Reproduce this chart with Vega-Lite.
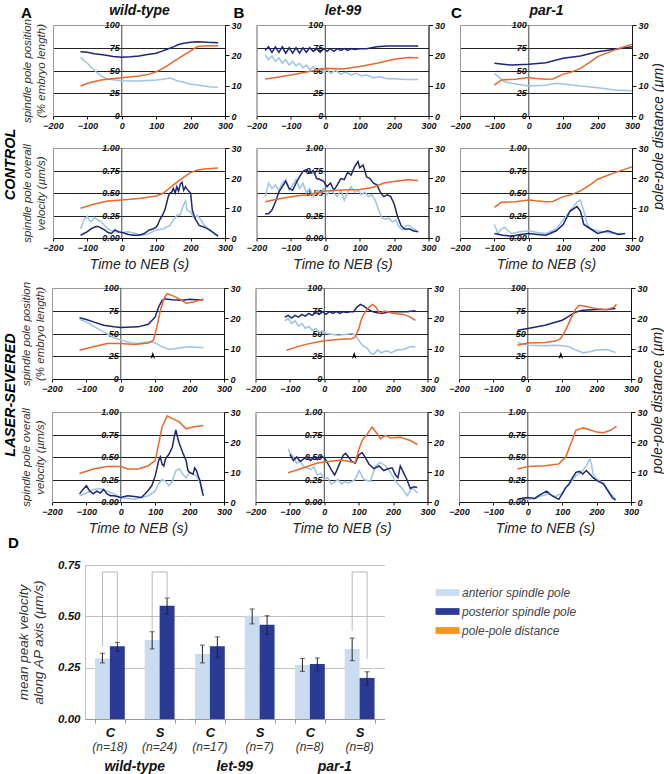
{
"$schema":"https://vega.github.io/schema/vega-lite/v6.json",
"padding":{"left":2,"top":2,"right":2,"bottom":2},
"config":{"font":"Liberation Sans","view":{"stroke":"#9a9a9a"},"mark":{"invalid":"filter"},
"axis":{"labelFont":"Liberation Sans","labelFontSize":9,"labelFontStyle":"italic","labelFontWeight":"bold","labelColor":"#111","domainColor":"#111","tickColor":"#111","titleFont":"Liberation Sans","titleFontStyle":"italic","titleFontWeight":"normal","titleColor":"#333","grid":false},
"title":{"font":"Liberation Sans","color":"#000"},
"header":{"labelFont":"Liberation Sans","labelFontSize":14,"labelFontWeight":"bold","labelFontStyle":"italic","labelColor":"#111"}},
"resolve":{"scale":{"color":"independent"},"legend":{"color":"independent"}},
"datasets":{
"tP":[{"v":0,"l":"0"},{"v":25,"l":"25"},{"v":50,"l":"50"},{"v":75,"l":"75"},{"v":100,"l":"100"}],
"tV":[{"v":0,"l":"0.00"},{"v":0.25,"l":"0.25"},{"v":0.5,"l":"0.50"},{"v":0.75,"l":"0.75"},{"v":1,"l":"1.00"}],
"A1":[{"t":-120,"a":64.5,"p":70.7,"d":9.9},{"t":-110,"a":61},{"t":-100,"a":58,"p":70,"d":10.8},{"t":-90,"a":54},{"t":-80,"a":50.5,"p":68.5},{"t":-70,"a":47},{"t":-60,"a":44,"d":11.9},{"t":-50,"a":42,"p":67},{"t":-40,"a":40.7},{"t":-30,"d":12.3},{"t":-25,"p":65.5},{"t":-20,"a":39.5},{"t":0,"a":38.8,"p":64.5,"d":12.6},{"t":25,"a":38.5,"p":65},{"t":50,"a":38.5,"p":66,"d":13.2},{"t":75,"a":39,"p":67.5},{"t":80,"d":13.8},{"t":100,"a":39.6,"p":69,"d":14.6},{"t":115,"p":71},{"t":120,"a":40.5,"d":15.7},{"t":130,"p":73},{"t":135,"d":16.8},{"t":140,"a":41.8},{"t":150,"a":40.5,"p":76,"d":17.9},{"t":160,"a":38.8},{"t":165,"p":78.5,"d":19},{"t":180,"a":37,"p":80,"d":20.1},{"t":200,"a":35,"p":81,"d":21.5},{"t":220,"a":34,"p":81.7,"d":22.9},{"t":240,"a":33,"d":23.1},{"t":250,"p":81},{"t":260,"a":32},{"t":280,"a":31.5,"p":80.6,"d":23.2}],
"A2":[{"t":-120,"p":0.03,"a":0.1,"d":9.9},{"t":-115,"a":0.15},{"t":-110,"p":0.05,"a":0.2},{"t":-100,"p":0.07,"a":0.24},{"t":-95,"a":0.2},{"t":-90,"p":0.1,"a":0.18},{"t":-85,"a":0.2},{"t":-80,"p":0.12,"a":0.23,"d":11.3},{"t":-70,"p":0.13,"a":0.2},{"t":-60,"p":0.11,"a":0.18},{"t":-50,"p":0.09,"a":0.14},{"t":-40,"p":0.06,"a":0.1,"d":12.3},{"t":-30,"p":0.05,"a":0.08},{"t":-20,"p":0.09,"a":0.07},{"t":-10,"p":0.07},{"t":0,"p":0.06,"a":0.06,"d":12.7},{"t":10,"p":0.05},{"t":20,"p":0.04,"a":0.07},{"t":35,"p":0.03},{"t":40,"a":0.05},{"t":50,"p":0.03,"d":13.2},{"t":60,"a":0.03},{"t":65,"p":0.05},{"t":80,"p":0.09,"a":0.05},{"t":90,"p":0.1},{"t":100,"p":0.12,"a":0.09,"d":14},{"t":105,"p":0.15},{"t":110,"p":0.2},{"t":118,"p":0.25},{"t":120,"a":0.1,"d":14.9},{"t":125,"p":0.31},{"t":130,"p":0.38},{"t":135,"p":0.46},{"t":140,"p":0.5,"a":0.14},{"t":145,"p":0.51},{"t":150,"p":0.55,"a":0.2,"d":17.7},{"t":155,"p":0.5},{"t":160,"p":0.57,"a":0.25},{"t":165,"p":0.52},{"t":170,"p":0.6,"a":0.26},{"t":175,"p":0.62,"a":0.32},{"t":180,"p":0.53,"a":0.37,"d":20.3},{"t":185,"p":0.57,"a":0.41},{"t":190,"p":0.54,"a":0.31},{"t":195,"p":0.52},{"t":200,"p":0.5,"a":0.29,"d":21.8},{"t":205,"p":0.31},{"t":210,"p":0.25,"a":0.22},{"t":215,"p":0.2},{"t":220,"a":0.25,"d":22.7},{"t":225,"p":0.14},{"t":230,"a":0.2},{"t":240,"p":0.12,"a":0.14,"d":23},{"t":255,"p":0.09,"a":0.09},{"t":270,"p":0.05,"a":0.04},{"t":280,"p":0.02,"a":0.02,"d":23.3}],
"B1":[{"t":-175,"p":72,"a":67,"d":12.2},{"t":-165,"p":76,"a":62},{"t":-155,"p":70,"a":66},{"t":-145,"p":76,"a":60},{"t":-140,"d":12.8},{"t":-135,"p":70,"a":64},{"t":-125,"p":76,"a":58},{"t":-115,"p":69,"a":62},{"t":-105,"p":75,"a":56},{"t":-100,"d":13.5},{"t":-95,"p":69,"a":60},{"t":-85,"p":75,"a":55},{"t":-75,"p":69,"a":58},{"t":-65,"p":75,"a":53},{"t":-55,"p":70,"a":56},{"t":-50,"d":14.6},{"t":-45,"p":75,"a":51},{"t":-35,"p":71,"a":54},{"t":-25,"p":74,"a":50},{"t":-15,"p":70,"a":52},{"t":-5,"p":74,"a":48},{"t":0,"d":15.7},{"t":5,"p":71,"a":51},{"t":15,"p":74,"a":47},{"t":25,"p":71},{"t":30,"a":50},{"t":35,"p":74},{"t":45,"p":72,"a":46},{"t":50,"d":15.5},{"t":55,"p":74},{"t":60,"a":48},{"t":65,"p":72},{"t":75,"p":74,"a":45},{"t":85,"p":73},{"t":90,"a":47},{"t":100,"p":74,"d":16.3},{"t":105,"a":44},{"t":120,"p":74,"a":45},{"t":140,"a":42},{"t":150,"p":76,"d":17.4},{"t":160,"a":43},{"t":180,"p":77,"a":41},{"t":200,"a":41,"d":18.7},{"t":210,"p":77},{"t":230,"a":40},{"t":240,"p":77,"d":19.3},{"t":270,"p":77,"a":40,"d":19.2}],
"B2":[{"t":-175,"p":0.27,"a":0.46,"d":12.1},{"t":-165,"p":0.27,"a":0.61},{"t":-155,"p":0.31,"a":0.55},{"t":-145,"p":0.4,"a":0.59},{"t":-135,"p":0.51,"a":0.53},{"t":-130,"d":13.2},{"t":-125,"p":0.57,"a":0.61},{"t":-115,"p":0.63,"a":0.65},{"t":-105,"p":0.55,"a":0.53},{"t":-95,"p":0.53,"a":0.59},{"t":-85,"p":0.61,"a":0.65},{"t":-80,"d":14.1},{"t":-75,"p":0.68,"a":0.55},{"t":-65,"p":0.74,"a":0.61},{"t":-55,"p":0.76,"a":0.5},{"t":-45,"p":0.72,"a":0.55},{"t":-40,"d":14.6},{"t":-35,"p":0.75,"a":0.46},{"t":-25,"p":0.66,"a":0.53},{"t":-15,"p":0.65,"a":0.48},{"t":-5,"p":0.63,"a":0.55},{"t":0,"d":15.7},{"t":5,"p":0.57,"a":0.48},{"t":15,"p":0.61,"a":0.53},{"t":25,"p":0.53,"a":0.5},{"t":35,"p":0.59,"a":0.46},{"t":45,"p":0.66,"a":0.53},{"t":50,"d":16},{"t":55,"p":0.65,"a":0.42},{"t":65,"p":0.73,"a":0.51},{"t":75,"p":0.7,"a":0.57},{"t":85,"p":0.79,"a":0.51},{"t":95,"p":0.85,"a":0.53},{"t":100,"p":0.78,"d":16.2},{"t":105,"a":0.48},{"t":110,"p":0.81},{"t":115,"a":0.51},{"t":120,"p":0.68},{"t":125,"a":0.46},{"t":130,"p":0.66},{"t":135,"a":0.48},{"t":140,"p":0.61,"d":16.9},{"t":145,"a":0.42},{"t":150,"p":0.59},{"t":155,"a":0.31},{"t":160,"p":0.51},{"t":165,"a":0.22},{"t":170,"p":0.46,"d":18.3},{"t":175,"a":0.21},{"t":180,"p":0.48},{"t":185,"a":0.22},{"t":190,"p":0.46},{"t":195,"a":0.18},{"t":200,"p":0.38,"d":18.8},{"t":205,"a":0.2},{"t":210,"p":0.24},{"t":215,"a":0.12},{"t":220,"p":0.14},{"t":225,"a":0.09},{"t":230,"p":0.1},{"t":235,"a":0.14},{"t":240,"d":19.4},{"t":245,"p":0.1,"a":0.14},{"t":255,"p":0.08,"a":0.1},{"t":265,"a":0.09},{"t":270,"p":0.07,"d":19.2}],
"C1":[{"t":-100,"p":57.9,"a":46.9,"d":10.2},{"t":-80,"a":40.3,"d":11.9},{"t":-70,"a":37.7},{"t":-50,"p":56,"a":35.9},{"t":-40,"d":12.1},{"t":0,"p":57,"a":33,"d":12.7},{"t":20,"d":12.4},{"t":50,"p":58.6,"a":33.7,"d":12.1},{"t":70,"d":12.2},{"t":80,"p":61.5,"a":35.9},{"t":100,"p":63.4,"d":13.8},{"t":120,"d":14.3},{"t":150,"p":66,"a":33,"d":15.7},{"t":180,"d":17.9},{"t":200,"p":70.7,"a":31,"d":19.6},{"t":250,"p":73.3,"a":28.6,"d":21.8},{"t":300,"p":76.2,"a":27.8,"d":23.7}],
"C2":[{"t":-100,"a":0.15,"p":0.05,"d":10.2},{"t":-90,"a":0.05},{"t":-80,"a":0.1,"d":11.9},{"t":-75,"p":0.03},{"t":-70,"a":0.12},{"t":-60,"a":0.08},{"t":-50,"a":0.05,"p":0.02},{"t":-40,"d":12.1},{"t":-25,"a":0.07,"p":0.04},{"t":0,"a":0.08,"p":0.05,"d":12.7},{"t":20,"d":12.4},{"t":25,"a":0.06,"p":0.04},{"t":50,"a":0.05,"p":0.03,"d":12.1},{"t":70,"d":12.2},{"t":80,"a":0.1,"p":0.08},{"t":100,"a":0.2,"p":0.15,"d":13.8},{"t":120,"a":0.3,"p":0.3,"d":14.3},{"t":140,"a":0.4,"p":0.35},{"t":150,"a":0.42,"p":0.3,"d":15.7},{"t":160,"a":0.3,"p":0.15},{"t":170,"a":0.15},{"t":180,"a":0.1,"p":0.1,"d":17.9},{"t":200,"a":0.08,"p":0.05,"d":19.6},{"t":225,"a":0.06},{"t":230,"p":0.08},{"t":250,"a":0.05,"d":21.8},{"t":260,"p":0.04},{"t":270,"a":0.05},{"t":280,"p":0.05},{"t":300,"d":23.7}],
"A3":[{"t":-120,"p":67.2,"a":65.3,"d":9.5},{"t":-100,"p":65.3,"a":62.8},{"t":-80,"p":62.8,"a":58,"d":10.6},{"t":-50,"p":59.1,"a":51.8},{"t":-40,"d":11.7},{"t":-20,"p":57.3,"a":45.6},{"t":0,"p":56.6,"a":42.7,"d":11.7},{"t":30,"a":39.8},{"t":40,"d":11.4},{"t":50,"p":57.3,"a":39},{"t":80,"p":60.2,"a":40.9,"d":11.9},{"t":95,"d":12.8},{"t":100,"p":68.2,"a":39.8},{"t":105,"d":17.2},{"t":110,"p":79.2},{"t":115,"d":22.6},{"t":120,"p":86.5,"a":35.4},{"t":125,"d":26.4},{"t":130,"p":88},{"t":135,"d":28.1},{"t":140,"a":32.5},{"t":150,"p":87,"d":27.5},{"t":160,"a":33.6},{"t":170,"d":26.4},{"t":180,"p":86.5,"a":34.7},{"t":190,"d":25},{"t":200,"p":87.5,"a":35.4},{"t":210,"d":25.4},{"t":220,"p":87},{"t":240,"p":87,"a":34.3,"d":26.4}],
"A4":[{"t":-120,"p":0.09,"a":0.07,"d":9.5},{"t":-110,"p":0.14},{"t":-100,"p":0.18,"a":0.1},{"t":-90,"p":0.12},{"t":-80,"p":0.09,"a":0.14,"d":11},{"t":-70,"p":0.12},{"t":-60,"p":0.1,"a":0.15},{"t":-50,"p":0.14},{"t":-40,"p":0.09,"a":0.12,"d":11.8},{"t":-30,"p":0.07},{"t":-20,"p":0.07,"a":0.09},{"t":0,"p":0.05,"a":0.05,"d":11.8},{"t":20,"p":0.07,"a":0.04,"d":11},{"t":40,"p":0.06,"a":0.03},{"t":50,"d":11},{"t":60,"p":0.05,"a":0.05},{"t":70,"p":0.09},{"t":80,"p":0.13,"a":0.07,"d":12.1},{"t":90,"p":0.18},{"t":100,"p":0.29,"a":0.12,"d":13.8},{"t":105,"p":0.37},{"t":110,"p":0.46,"a":0.2,"d":19.4},{"t":115,"p":0.5},{"t":120,"p":0.42,"a":0.25,"d":25},{"t":125,"p":0.4},{"t":130,"p":0.48,"a":0.23},{"t":135,"d":28.7},{"t":140,"p":0.53,"a":0.18},{"t":150,"p":0.61,"a":0.23,"d":27.8},{"t":155,"p":0.72},{"t":160,"p":0.8,"a":0.35},{"t":165,"p":0.72},{"t":170,"p":0.65,"a":0.37,"d":26.7},{"t":180,"p":0.55,"a":0.31},{"t":190,"p":0.46,"a":0.27,"d":24.4},{"t":195,"p":0.35},{"t":200,"p":0.33,"a":0.33},{"t":210,"p":0.31,"a":0.31,"d":25},{"t":215,"p":0.38},{"t":220,"p":0.35,"a":0.29},{"t":225,"p":0.29},{"t":230,"p":0.24,"a":0.22},{"t":235,"p":0.14},{"t":240,"p":0.07,"a":0.12,"d":25.5}],
"B3":[{"t":-115,"p":68,"a":63.9},{"t":-110,"d":9.5},{"t":-105,"p":70,"a":66.4},{"t":-95,"p":67,"a":61},{"t":-85,"p":70,"a":63.9},{"t":-80,"d":10.6},{"t":-75,"p":68,"a":58},{"t":-65,"p":71,"a":61},{"t":-55,"p":69,"a":55.5},{"t":-50,"d":11.5},{"t":-45,"p":72,"a":58},{"t":-35,"p":70,"a":53.6},{"t":-25,"p":73,"a":55.5},{"t":-20,"d":12.2},{"t":-15,"p":71,"a":51.8},{"t":-5,"p":74,"a":52.9},{"t":0,"d":12.6},{"t":5,"p":71,"a":50},{"t":15,"p":74},{"t":20,"a":49.3},{"t":25,"p":72},{"t":35,"p":74},{"t":40,"a":48.2,"d":13},{"t":45,"p":72},{"t":55,"p":74},{"t":60,"a":48.9},{"t":65,"p":73},{"t":75,"p":74},{"t":80,"a":50,"d":13.3},{"t":85,"p":74},{"t":90,"a":48.2,"d":13.9},{"t":95,"p":79},{"t":100,"a":42.7,"d":16.6},{"t":105,"p":82},{"t":110,"a":37.2,"d":20.4},{"t":115,"p":80},{"t":125,"p":77,"a":33.6,"d":23.2},{"t":135,"a":28.1},{"t":140,"p":74,"d":24.6},{"t":145,"a":27.4},{"t":150,"p":73,"d":23.7},{"t":155,"a":32},{"t":160,"d":21.7},{"t":165,"p":72,"a":28.8},{"t":175,"d":22.4},{"t":180,"p":73,"a":31},{"t":195,"a":28.8},{"t":200,"p":74,"d":21.7},{"t":210,"a":31.8},{"t":220,"p":74},{"t":230,"a":32.5,"d":21.3},{"t":240,"p":74},{"t":250,"a":35.4,"d":20.4},{"t":265,"p":75,"a":35.4,"d":19.3}],
"B4":[{"t":-105,"a":0.59,"d":9.75},{"t":-100,"p":0.53,"a":0.55},{"t":-90,"p":0.46,"a":0.5},{"t":-80,"p":0.5,"a":0.43},{"t":-70,"p":0.45,"a":0.46},{"t":-60,"p":0.48,"a":0.39,"d":11.4},{"t":-50,"p":0.5,"a":0.38},{"t":-40,"p":0.46,"a":0.36},{"t":-30,"p":0.5,"a":0.39},{"t":-20,"p":0.47,"a":0.3,"d":13},{"t":-10,"p":0.51,"a":0.32},{"t":0,"p":0.49,"a":0.25,"d":13.3},{"t":10,"p":0.43,"a":0.27},{"t":20,"p":0.36,"a":0.2},{"t":30,"p":0.3,"a":0.22},{"t":35,"p":0.34},{"t":40,"a":0.25},{"t":45,"p":0.43},{"t":50,"a":0.2,"d":14},{"t":55,"p":0.52},{"t":60,"a":0.23},{"t":62,"p":0.54},{"t":70,"p":0.5,"a":0.21},{"t":80,"p":0.45,"a":0.23,"d":13.3},{"t":90,"p":0.43,"a":0.25,"d":13.2},{"t":100,"p":0.52,"d":17.3},{"t":101,"a":0.35},{"t":110,"p":0.55,"d":20.5},{"t":115,"a":0.25},{"t":120,"p":0.49},{"t":125,"d":22.7},{"t":130,"p":0.42},{"t":134,"a":0.23},{"t":139,"d":25},{"t":144,"p":0.37},{"t":149,"a":0.4},{"t":154,"d":22.7},{"t":159,"p":0.4},{"t":163,"a":0.44,"d":21.1},{"t":173,"p":0.35},{"t":178,"a":0.4,"d":22.2},{"t":185,"p":0.37},{"t":192,"a":0.33,"d":21.4},{"t":197,"p":0.38},{"t":207,"p":0.3,"a":0.23},{"t":214,"p":0.27},{"t":221,"p":0.4,"d":21.6},{"t":226,"a":0.15},{"t":230,"p":0.33},{"t":240,"p":0.25},{"t":241,"a":0.07},{"t":250,"p":0.15,"d":20.5},{"t":255,"a":0.16},{"t":260,"p":0.17},{"t":270,"p":0.16},{"t":271,"a":0.1,"d":19.1}],
"C3":[{"t":-30,"p":53.6,"a":40.1,"d":11.1},{"t":0,"p":55.5,"a":37.2,"d":11.9},{"t":50,"p":59,"a":36.5,"d":12},{"t":80,"a":37.2,"d":12.5},{"t":95,"d":13.3},{"t":100,"p":64.6,"a":36.5},{"t":110,"d":16.1},{"t":120,"p":69,"a":35.4},{"t":125,"d":19.9},{"t":140,"p":73.7,"a":31.8,"d":23.2},{"t":150,"d":24.3},{"t":160,"p":75.5,"a":28.8},{"t":170,"d":23.9},{"t":180,"a":29.9},{"t":200,"p":76.3,"a":31.8,"d":23.2},{"t":230,"p":76.3,"a":32.5,"d":22.8},{"t":250,"d":23.7},{"t":255,"p":77.4,"a":29.2},{"t":258,"d":24.6}],
"C4":[{"t":-30,"p":0.03,"a":0.01,"d":11},{"t":-20,"p":0.04},{"t":-10,"a":0.05},{"t":0,"p":0.05,"a":0.03,"d":11.8},{"t":20,"p":0.04,"a":0.04},{"t":40,"p":0.09,"a":0.07},{"t":50,"d":12.1},{"t":55,"p":0.12},{"t":60,"a":0.09},{"t":70,"p":0.07},{"t":80,"a":0.06},{"t":90,"p":0.03,"d":12.7},{"t":100,"p":0.09,"a":0.1},{"t":110,"p":0.16,"d":14.9},{"t":120,"p":0.2,"a":0.2},{"t":125,"d":19.4},{"t":130,"p":0.27},{"t":140,"p":0.33,"a":0.29,"d":23.9},{"t":150,"p":0.34},{"t":160,"p":0.31,"a":0.35,"d":24.7},{"t":170,"p":0.35,"a":0.4},{"t":180,"p":0.31,"a":0.48,"d":24.1},{"t":185,"a":0.42},{"t":190,"p":0.27,"a":0.31},{"t":200,"p":0.24,"a":0.25,"d":23.3},{"t":210,"p":0.22},{"t":220,"p":0.2,"a":0.21,"d":23.1},{"t":230,"p":0.14},{"t":240,"a":0.1,"d":23.9},{"t":245,"p":0.05},{"t":255,"p":0.02,"a":0.03},{"t":258,"d":25.2}],
"bars":[
{"g":"wild-type","c":"C (n=18)","n":"(n=18)","s":"anterior spindle pole","m":0.295,"lo":0.273,"hi":0.32},
{"g":"wild-type","c":"C (n=18)","s":"posterior spindle pole","m":0.354,"lo":0.33,"hi":0.373},
{"g":"wild-type","c":"S (n=24)","n":"(n=24)","s":"anterior spindle pole","m":0.385,"lo":0.341,"hi":0.425},
{"g":"wild-type","c":"S (n=24)","s":"posterior spindle pole","m":0.552,"lo":0.511,"hi":0.589},
{"g":"let-99","c":"C (n=17)","n":"(n=17)","s":"anterior spindle pole","m":0.317,"lo":0.273,"hi":0.36},
{"g":"let-99","c":"C (n=17)","s":"posterior spindle pole","m":0.354,"lo":0.3,"hi":0.4},
{"g":"let-99","c":"S (n=7)","n":"(n=7)","s":"anterior spindle pole","m":0.503,"lo":0.463,"hi":0.536},
{"g":"let-99","c":"S (n=7)","s":"posterior spindle pole","m":0.459,"lo":0.411,"hi":0.503},
{"g":"par-1","c":"C (n=8)","n":"(n=8)","s":"anterior spindle pole","m":0.263,"lo":0.232,"hi":0.295},
{"g":"par-1","c":"C (n=8)","s":"posterior spindle pole","m":0.268,"lo":0.235,"hi":0.297},
{"g":"par-1","c":"S (n=8)","n":"(n=8)","s":"anterior spindle pole","m":0.341,"lo":0.284,"hi":0.394},
{"g":"par-1","c":"S (n=8)","s":"posterior spindle pole","m":0.2,"lo":0.166,"hi":0.23},
{"g":"wild-type","c":"C (n=18)","s":"anterior spindle pole","b":0.355,"o":1},
{"g":"wild-type","c":"C (n=18)","s":"anterior spindle pole","b":0.716,"o":2},
{"g":"wild-type","c":"C (n=18)","s":"posterior spindle pole","b":0.716,"o":3},
{"g":"wild-type","c":"C (n=18)","s":"posterior spindle pole","b":0.375,"o":4},
{"g":"wild-type","c":"S (n=24)","s":"anterior spindle pole","b":0.43,"o":1},
{"g":"wild-type","c":"S (n=24)","s":"anterior spindle pole","b":0.716,"o":2},
{"g":"wild-type","c":"S (n=24)","s":"posterior spindle pole","b":0.716,"o":3},
{"g":"wild-type","c":"S (n=24)","s":"posterior spindle pole","b":0.593,"o":4},
{"g":"par-1","c":"S (n=8)","s":"anterior spindle pole","b":0.43,"o":1},
{"g":"par-1","c":"S (n=8)","s":"anterior spindle pole","b":0.716,"o":2},
{"g":"par-1","c":"S (n=8)","s":"posterior spindle pole","b":0.716,"o":3},
{"g":"par-1","c":"S (n=8)","s":"posterior spindle pole","b":0.293,"o":4}]
},
"spacing":0,
"vconcat":[
{"spacing":2,"hconcat":[
{"width":8,"height":255,"view":{"stroke":null},"data":{"values":[{}]},"mark":{"type":"text","text":"CONTROL","angle":270,"align":"center","baseline":"middle","dx":-12,"fontSize":14.5,"fontWeight":"bold","fontStyle":"italic","color":"#000"},"encoding":{}},
{"columns":3,"bounds":"flush","spacing":{"row":32,"column":31.5},
"concat":[
{"width":172,"height":91,"title":{"text":"A","anchor":"start","frame":"group","dx":-32,"offset":-18,"fontSize":15,"fontWeight":"bold"},
"layer":[
{"data":{"values":[{}]},"mark":{"type":"rule","color":"#444"},"encoding":{"x":{"datum":0,"type":"quantitative","scale":{"domain":[-200,300],"nice":false},"axis":null}}},
{"data":{"name":"tP"},"mark":{"type":"text","align":"right","baseline":"middle","dx":-2,"fontSize":9,"fontStyle":"italic","fontWeight":"bold","color":"#111"},"encoding":{"x":{"datum":0,"type":"quantitative","scale":{"domain":[-200,300],"nice":false},"axis":null},"y":{"field":"v","type":"quantitative","scale":{"domain":[0,100],"nice":false},"axis":null},"text":{"field":"l"}}},
{"data":{"name":"A1"},"mark":{"type":"line","color":"#9dc3e6","strokeWidth":1.5},"encoding":{"x":{"field":"t","type":"quantitative","scale":{"domain":[-200,300],"nice":false},"axis":{"values":[-200,-100,0,100,200,300],"title":null,"tickSize":3,"labelPadding":2,"labelFlush":false}},"y":{"field":"a","type":"quantitative","scale":{"domain":[0,100],"nice":false},"axis":{"title":["spindle pole position","(% embryo length)"],"titleFontSize":11.5,"titlePadding":7,"labels":false,"ticks":false,"values":[25,50,75],"grid":true,"gridColor":"#222","domainColor":"#999"}}}},
{"data":{"name":"A1"},"mark":{"type":"line","color":"#1f2674","strokeWidth":1.5},"encoding":{"x":{"field":"t","type":"quantitative","scale":{"domain":[-200,300],"nice":false},"axis":{"orient":"top","title":"wild-type","labels":false,"ticks":false,"domain":false,"titleFontSize":14,"titleFontWeight":"bold","titleFontStyle":"italic","titleColor":"#111","titlePadding":8}},"y":{"field":"p","type":"quantitative","scale":{"domain":[0,100],"nice":false},"axis":null}}},
{"data":{"name":"A1"},"mark":{"type":"line","color":"#e8692b","strokeWidth":1.5},"encoding":{"x":{"field":"t","type":"quantitative","scale":{"domain":[-200,300],"nice":false},"axis":null},"y":{"field":"d","type":"quantitative","scale":{"domain":[0,30],"nice":false},"axis":{"orient":"right","values":[0,10,20,30],"title":null,"tickSize":4,"labelPadding":2}}}}],
"resolve":{"scale":{"x":"independent","y":"independent"}}},
{"width":172,"height":91,"title":{"text":"B","anchor":"start","frame":"group","dx":-23,"offset":-18,"fontSize":15,"fontWeight":"bold"},
"layer":[
{"data":{"values":[{}]},"mark":{"type":"rule","color":"#444"},"encoding":{"x":{"datum":0,"type":"quantitative","scale":{"domain":[-200,300],"nice":false},"axis":null}}},
{"data":{"name":"tP"},"mark":{"type":"text","align":"right","baseline":"middle","dx":-2,"fontSize":9,"fontStyle":"italic","fontWeight":"bold","color":"#111"},"encoding":{"x":{"datum":0,"type":"quantitative","scale":{"domain":[-200,300],"nice":false},"axis":null},"y":{"field":"v","type":"quantitative","scale":{"domain":[0,100],"nice":false},"axis":null},"text":{"field":"l"}}},
{"data":{"name":"B1"},"mark":{"type":"line","color":"#9dc3e6","strokeWidth":1.5},"encoding":{"x":{"field":"t","type":"quantitative","scale":{"domain":[-200,300],"nice":false},"axis":{"values":[-200,-100,0,100,200,300],"title":null,"tickSize":3,"labelPadding":2,"labelFlush":false}},"y":{"field":"a","type":"quantitative","scale":{"domain":[0,100],"nice":false},"axis":{"title":null,"labels":false,"ticks":false,"values":[25,50,75],"grid":true,"gridColor":"#222","domainColor":"#999"}}}},
{"data":{"name":"B1"},"mark":{"type":"line","color":"#1f2674","strokeWidth":1.5},"encoding":{"x":{"field":"t","type":"quantitative","scale":{"domain":[-200,300],"nice":false},"axis":{"orient":"top","title":"let-99","labels":false,"ticks":false,"domain":false,"titleFontSize":14,"titleFontWeight":"bold","titleFontStyle":"italic","titleColor":"#111","titlePadding":8}},"y":{"field":"p","type":"quantitative","scale":{"domain":[0,100],"nice":false},"axis":null}}},
{"data":{"name":"B1"},"mark":{"type":"line","color":"#e8692b","strokeWidth":1.5},"encoding":{"x":{"field":"t","type":"quantitative","scale":{"domain":[-200,300],"nice":false},"axis":null},"y":{"field":"d","type":"quantitative","scale":{"domain":[0,30],"nice":false},"axis":{"orient":"right","values":[0,10,20,30],"title":null,"tickSize":4,"labelPadding":2}}}}],
"resolve":{"scale":{"x":"independent","y":"independent"}}},
{"width":172,"height":91,"title":{"text":"C","anchor":"start","frame":"group","dx":-9,"offset":-18,"fontSize":15,"fontWeight":"bold"},
"layer":[
{"data":{"values":[{}]},"mark":{"type":"rule","color":"#444"},"encoding":{"x":{"datum":0,"type":"quantitative","scale":{"domain":[-200,300],"nice":false},"axis":null}}},
{"data":{"name":"tP"},"mark":{"type":"text","align":"right","baseline":"middle","dx":-2,"fontSize":9,"fontStyle":"italic","fontWeight":"bold","color":"#111"},"encoding":{"x":{"datum":0,"type":"quantitative","scale":{"domain":[-200,300],"nice":false},"axis":null},"y":{"field":"v","type":"quantitative","scale":{"domain":[0,100],"nice":false},"axis":null},"text":{"field":"l"}}},
{"data":{"name":"C1"},"mark":{"type":"line","color":"#9dc3e6","strokeWidth":1.5},"encoding":{"x":{"field":"t","type":"quantitative","scale":{"domain":[-200,300],"nice":false},"axis":{"values":[-200,-100,0,100,200,300],"title":null,"tickSize":3,"labelPadding":2,"labelFlush":false}},"y":{"field":"a","type":"quantitative","scale":{"domain":[0,100],"nice":false},"axis":{"title":null,"labels":false,"ticks":false,"values":[25,50,75],"grid":true,"gridColor":"#222","domainColor":"#999"}}}},
{"data":{"name":"C1"},"mark":{"type":"line","color":"#1f2674","strokeWidth":1.5},"encoding":{"x":{"field":"t","type":"quantitative","scale":{"domain":[-200,300],"nice":false},"axis":{"orient":"top","title":"par-1","labels":false,"ticks":false,"domain":false,"titleFontSize":14,"titleFontWeight":"bold","titleFontStyle":"italic","titleColor":"#111","titlePadding":8}},"y":{"field":"p","type":"quantitative","scale":{"domain":[0,100],"nice":false},"axis":null}}},
{"data":{"name":"C1"},"mark":{"type":"line","color":"#e8692b","strokeWidth":1.5},"encoding":{"x":{"field":"t","type":"quantitative","scale":{"domain":[-200,300],"nice":false},"axis":null},"y":{"field":"d","type":"quantitative","scale":{"domain":[0,30],"nice":false},"axis":{"orient":"right","values":[0,10,20,30],"title":null,"tickSize":4,"labelPadding":2}}}}],
"resolve":{"scale":{"x":"independent","y":"independent"}}},
{"width":172,"height":90,
"layer":[
{"data":{"values":[{}]},"mark":{"type":"rule","color":"#444"},"encoding":{"x":{"datum":0,"type":"quantitative","scale":{"domain":[-200,300],"nice":false},"axis":null}}},
{"data":{"name":"tV"},"mark":{"type":"text","align":"right","baseline":"middle","dx":-2,"fontSize":9,"fontStyle":"italic","fontWeight":"bold","color":"#111"},"encoding":{"x":{"datum":0,"type":"quantitative","scale":{"domain":[-200,300],"nice":false},"axis":null},"y":{"field":"v","type":"quantitative","scale":{"domain":[0,1],"nice":false},"axis":null},"text":{"field":"l"}}},
{"data":{"name":"A2"},"mark":{"type":"line","color":"#9dc3e6","strokeWidth":1.5},"encoding":{"x":{"field":"t","type":"quantitative","scale":{"domain":[-200,300],"nice":false},"axis":{"values":[-200,-100,0,100,200,300],"title":"Time to NEB (s)","titleFontSize":14,"titleColor":"#222","titlePadding":5,"tickSize":3,"labelPadding":2,"labelFlush":false}},"y":{"field":"a","type":"quantitative","scale":{"domain":[0,1],"nice":false},"axis":{"title":["spindle pole overall","velocity (µm/s)"],"titleFontSize":11.5,"titlePadding":7,"labels":false,"ticks":false,"values":[0.25,0.5,0.75],"grid":true,"gridColor":"#222","domainColor":"#999"}}}},
{"data":{"name":"A2"},"mark":{"type":"line","color":"#1f2674","strokeWidth":1.5},"encoding":{"x":{"field":"t","type":"quantitative","scale":{"domain":[-200,300],"nice":false},"axis":null},"y":{"field":"p","type":"quantitative","scale":{"domain":[0,1],"nice":false},"axis":null}}},
{"data":{"name":"A2"},"mark":{"type":"line","color":"#e8692b","strokeWidth":1.5},"encoding":{"x":{"field":"t","type":"quantitative","scale":{"domain":[-200,300],"nice":false},"axis":null},"y":{"field":"d","type":"quantitative","scale":{"domain":[0,30],"nice":false},"axis":{"orient":"right","values":[0,10,20,30],"title":null,"tickSize":4,"labelPadding":2}}}}],
"resolve":{"scale":{"x":"independent","y":"independent"}}},
{"width":172,"height":90,
"layer":[
{"data":{"values":[{}]},"mark":{"type":"rule","color":"#444"},"encoding":{"x":{"datum":0,"type":"quantitative","scale":{"domain":[-200,300],"nice":false},"axis":null}}},
{"data":{"name":"tV"},"mark":{"type":"text","align":"right","baseline":"middle","dx":-2,"fontSize":9,"fontStyle":"italic","fontWeight":"bold","color":"#111"},"encoding":{"x":{"datum":0,"type":"quantitative","scale":{"domain":[-200,300],"nice":false},"axis":null},"y":{"field":"v","type":"quantitative","scale":{"domain":[0,1],"nice":false},"axis":null},"text":{"field":"l"}}},
{"data":{"name":"B2"},"mark":{"type":"line","color":"#9dc3e6","strokeWidth":1.5},"encoding":{"x":{"field":"t","type":"quantitative","scale":{"domain":[-200,300],"nice":false},"axis":{"values":[-200,-100,0,100,200,300],"title":"Time to NEB (s)","titleFontSize":14,"titleColor":"#222","titlePadding":5,"tickSize":3,"labelPadding":2,"labelFlush":false}},"y":{"field":"a","type":"quantitative","scale":{"domain":[0,1],"nice":false},"axis":{"title":null,"labels":false,"ticks":false,"values":[0.25,0.5,0.75],"grid":true,"gridColor":"#222","domainColor":"#999"}}}},
{"data":{"name":"B2"},"mark":{"type":"line","color":"#1f2674","strokeWidth":1.5},"encoding":{"x":{"field":"t","type":"quantitative","scale":{"domain":[-200,300],"nice":false},"axis":null},"y":{"field":"p","type":"quantitative","scale":{"domain":[0,1],"nice":false},"axis":null}}},
{"data":{"name":"B2"},"mark":{"type":"line","color":"#e8692b","strokeWidth":1.5},"encoding":{"x":{"field":"t","type":"quantitative","scale":{"domain":[-200,300],"nice":false},"axis":null},"y":{"field":"d","type":"quantitative","scale":{"domain":[0,30],"nice":false},"axis":{"orient":"right","values":[0,10,20,30],"title":null,"tickSize":4,"labelPadding":2}}}}],
"resolve":{"scale":{"x":"independent","y":"independent"}}},
{"width":172,"height":90,
"layer":[
{"data":{"values":[{}]},"mark":{"type":"rule","color":"#444"},"encoding":{"x":{"datum":0,"type":"quantitative","scale":{"domain":[-200,300],"nice":false},"axis":null}}},
{"data":{"name":"tV"},"mark":{"type":"text","align":"right","baseline":"middle","dx":-2,"fontSize":9,"fontStyle":"italic","fontWeight":"bold","color":"#111"},"encoding":{"x":{"datum":0,"type":"quantitative","scale":{"domain":[-200,300],"nice":false},"axis":null},"y":{"field":"v","type":"quantitative","scale":{"domain":[0,1],"nice":false},"axis":null},"text":{"field":"l"}}},
{"data":{"name":"C2"},"mark":{"type":"line","color":"#9dc3e6","strokeWidth":1.5},"encoding":{"x":{"field":"t","type":"quantitative","scale":{"domain":[-200,300],"nice":false},"axis":{"values":[-200,-100,0,100,200,300],"title":"Time to NEB (s)","titleFontSize":14,"titleColor":"#222","titlePadding":5,"tickSize":3,"labelPadding":2,"labelFlush":false}},"y":{"field":"a","type":"quantitative","scale":{"domain":[0,1],"nice":false},"axis":{"title":null,"labels":false,"ticks":false,"values":[0.25,0.5,0.75],"grid":true,"gridColor":"#222","domainColor":"#999"}}}},
{"data":{"name":"C2"},"mark":{"type":"line","color":"#1f2674","strokeWidth":1.5},"encoding":{"x":{"field":"t","type":"quantitative","scale":{"domain":[-200,300],"nice":false},"axis":null},"y":{"field":"p","type":"quantitative","scale":{"domain":[0,1],"nice":false},"axis":null}}},
{"data":{"name":"C2"},"mark":{"type":"line","color":"#e8692b","strokeWidth":1.5},"encoding":{"x":{"field":"t","type":"quantitative","scale":{"domain":[-200,300],"nice":false},"axis":null},"y":{"field":"d","type":"quantitative","scale":{"domain":[0,30],"nice":false},"axis":{"orient":"right","values":[0,10,20,30],"title":"pole-pole distance (µm)","titleFontSize":14,"titleColor":"#222","titleAngle":270,"titleAnchor":"end","titleAlign":"center","titleBaseline":"top","titleY":-12,"titlePadding":3,"tickSize":4,"labelPadding":2}}}}],
"resolve":{"scale":{"x":"independent","y":"independent"}}}
]}]},
{"spacing":2,"hconcat":[
{"width":8,"height":214,"view":{"stroke":null},"data":{"values":[{}]},"mark":{"type":"text","text":"LASER-SEVERED","angle":270,"align":"center","baseline":"middle","fontSize":14.5,"fontWeight":"bold","fontStyle":"italic","color":"#000"},"encoding":{}},
{"columns":3,"bounds":"flush","spacing":{"row":33,"column":31.5},
"concat":[
{"width":172,"height":91,
"layer":[
{"data":{"values":[{}]},"mark":{"type":"rule","color":"#444"},"encoding":{"x":{"datum":0,"type":"quantitative","scale":{"domain":[-200,300],"nice":false},"axis":null}}},
{"data":{"name":"tP"},"mark":{"type":"text","align":"right","baseline":"middle","dx":-2,"fontSize":9,"fontStyle":"italic","fontWeight":"bold","color":"#111"},"encoding":{"x":{"datum":0,"type":"quantitative","scale":{"domain":[-200,300],"nice":false},"axis":null},"y":{"field":"v","type":"quantitative","scale":{"domain":[0,100],"nice":false},"axis":null},"text":{"field":"l"}}},
{"data":{"values":[{"t":93}]},"mark":{"type":"point","shape":"M0,-1L0.65,1L0,0.45L-0.65,1Z","size":50,"filled":true,"color":"#000","opacity":1},"encoding":{"x":{"field":"t","type":"quantitative","scale":{"domain":[-200,300],"nice":false},"axis":null},"y":{"datum":26,"type":"quantitative","scale":{"domain":[0,100],"nice":false},"axis":null}}},
{"data":{"name":"A3"},"mark":{"type":"line","color":"#9dc3e6","strokeWidth":1.5},"encoding":{"x":{"field":"t","type":"quantitative","scale":{"domain":[-200,300],"nice":false},"axis":{"values":[-200,-100,0,100,200,300],"title":null,"tickSize":3,"labelPadding":2,"labelFlush":false}},"y":{"field":"a","type":"quantitative","scale":{"domain":[0,100],"nice":false},"axis":{"title":["spindle pole position","(% embryo length)"],"titleFontSize":11.5,"titlePadding":7,"labels":false,"ticks":false,"values":[25,50,75],"grid":true,"gridColor":"#222","domainColor":"#999"}}}},
{"data":{"name":"A3"},"mark":{"type":"line","color":"#1f2674","strokeWidth":1.5},"encoding":{"x":{"field":"t","type":"quantitative","scale":{"domain":[-200,300],"nice":false},"axis":null},"y":{"field":"p","type":"quantitative","scale":{"domain":[0,100],"nice":false},"axis":null}}},
{"data":{"name":"A3"},"mark":{"type":"line","color":"#e8692b","strokeWidth":1.5},"encoding":{"x":{"field":"t","type":"quantitative","scale":{"domain":[-200,300],"nice":false},"axis":null},"y":{"field":"d","type":"quantitative","scale":{"domain":[0,30],"nice":false},"axis":{"orient":"right","values":[0,10,20,30],"title":null,"tickSize":4,"labelPadding":2}}}}],
"resolve":{"scale":{"x":"independent","y":"independent"}}},
{"width":172,"height":91,
"layer":[
{"data":{"values":[{}]},"mark":{"type":"rule","color":"#444"},"encoding":{"x":{"datum":0,"type":"quantitative","scale":{"domain":[-200,300],"nice":false},"axis":null}}},
{"data":{"name":"tP"},"mark":{"type":"text","align":"right","baseline":"middle","dx":-2,"fontSize":9,"fontStyle":"italic","fontWeight":"bold","color":"#111"},"encoding":{"x":{"datum":0,"type":"quantitative","scale":{"domain":[-200,300],"nice":false},"axis":null},"y":{"field":"v","type":"quantitative","scale":{"domain":[0,100],"nice":false},"axis":null},"text":{"field":"l"}}},
{"data":{"values":[{"t":87}]},"mark":{"type":"point","shape":"M0,-1L0.65,1L0,0.45L-0.65,1Z","size":50,"filled":true,"color":"#000","opacity":1},"encoding":{"x":{"field":"t","type":"quantitative","scale":{"domain":[-200,300],"nice":false},"axis":null},"y":{"datum":26,"type":"quantitative","scale":{"domain":[0,100],"nice":false},"axis":null}}},
{"data":{"name":"B3"},"mark":{"type":"line","color":"#9dc3e6","strokeWidth":1.5},"encoding":{"x":{"field":"t","type":"quantitative","scale":{"domain":[-200,300],"nice":false},"axis":{"values":[-200,-100,0,100,200,300],"title":null,"tickSize":3,"labelPadding":2,"labelFlush":false}},"y":{"field":"a","type":"quantitative","scale":{"domain":[0,100],"nice":false},"axis":{"title":null,"labels":false,"ticks":false,"values":[25,50,75],"grid":true,"gridColor":"#222","domainColor":"#999"}}}},
{"data":{"name":"B3"},"mark":{"type":"line","color":"#1f2674","strokeWidth":1.5},"encoding":{"x":{"field":"t","type":"quantitative","scale":{"domain":[-200,300],"nice":false},"axis":null},"y":{"field":"p","type":"quantitative","scale":{"domain":[0,100],"nice":false},"axis":null}}},
{"data":{"name":"B3"},"mark":{"type":"line","color":"#e8692b","strokeWidth":1.5},"encoding":{"x":{"field":"t","type":"quantitative","scale":{"domain":[-200,300],"nice":false},"axis":null},"y":{"field":"d","type":"quantitative","scale":{"domain":[0,30],"nice":false},"axis":{"orient":"right","values":[0,10,20,30],"title":null,"tickSize":4,"labelPadding":2}}}}],
"resolve":{"scale":{"x":"independent","y":"independent"}}},
{"width":172,"height":91,
"layer":[
{"data":{"values":[{}]},"mark":{"type":"rule","color":"#444"},"encoding":{"x":{"datum":0,"type":"quantitative","scale":{"domain":[-200,300],"nice":false},"axis":null}}},
{"data":{"name":"tP"},"mark":{"type":"text","align":"right","baseline":"middle","dx":-2,"fontSize":9,"fontStyle":"italic","fontWeight":"bold","color":"#111"},"encoding":{"x":{"datum":0,"type":"quantitative","scale":{"domain":[-200,300],"nice":false},"axis":null},"y":{"field":"v","type":"quantitative","scale":{"domain":[0,100],"nice":false},"axis":null},"text":{"field":"l"}}},
{"data":{"values":[{"t":96}]},"mark":{"type":"point","shape":"M0,-1L0.65,1L0,0.45L-0.65,1Z","size":50,"filled":true,"color":"#000","opacity":1},"encoding":{"x":{"field":"t","type":"quantitative","scale":{"domain":[-200,300],"nice":false},"axis":null},"y":{"datum":26,"type":"quantitative","scale":{"domain":[0,100],"nice":false},"axis":null}}},
{"data":{"name":"C3"},"mark":{"type":"line","color":"#9dc3e6","strokeWidth":1.5},"encoding":{"x":{"field":"t","type":"quantitative","scale":{"domain":[-200,300],"nice":false},"axis":{"values":[-200,-100,0,100,200,300],"title":null,"tickSize":3,"labelPadding":2,"labelFlush":false}},"y":{"field":"a","type":"quantitative","scale":{"domain":[0,100],"nice":false},"axis":{"title":null,"labels":false,"ticks":false,"values":[25,50,75],"grid":true,"gridColor":"#222","domainColor":"#999"}}}},
{"data":{"name":"C3"},"mark":{"type":"line","color":"#1f2674","strokeWidth":1.5},"encoding":{"x":{"field":"t","type":"quantitative","scale":{"domain":[-200,300],"nice":false},"axis":null},"y":{"field":"p","type":"quantitative","scale":{"domain":[0,100],"nice":false},"axis":null}}},
{"data":{"name":"C3"},"mark":{"type":"line","color":"#e8692b","strokeWidth":1.5},"encoding":{"x":{"field":"t","type":"quantitative","scale":{"domain":[-200,300],"nice":false},"axis":null},"y":{"field":"d","type":"quantitative","scale":{"domain":[0,30],"nice":false},"axis":{"orient":"right","values":[0,10,20,30],"title":null,"tickSize":4,"labelPadding":2}}}}],
"resolve":{"scale":{"x":"independent","y":"independent"}}},
{"width":172,"height":90,
"layer":[
{"data":{"values":[{}]},"mark":{"type":"rule","color":"#444"},"encoding":{"x":{"datum":0,"type":"quantitative","scale":{"domain":[-200,300],"nice":false},"axis":null}}},
{"data":{"name":"tV"},"mark":{"type":"text","align":"right","baseline":"middle","dx":-2,"fontSize":9,"fontStyle":"italic","fontWeight":"bold","color":"#111"},"encoding":{"x":{"datum":0,"type":"quantitative","scale":{"domain":[-200,300],"nice":false},"axis":null},"y":{"field":"v","type":"quantitative","scale":{"domain":[0,1],"nice":false},"axis":null},"text":{"field":"l"}}},
{"data":{"name":"A4"},"mark":{"type":"line","color":"#9dc3e6","strokeWidth":1.5},"encoding":{"x":{"field":"t","type":"quantitative","scale":{"domain":[-200,300],"nice":false},"axis":{"values":[-200,-100,0,100,200,300],"title":"Time to NEB (s)","titleFontSize":14,"titleColor":"#222","titlePadding":5,"tickSize":3,"labelPadding":2,"labelFlush":false}},"y":{"field":"a","type":"quantitative","scale":{"domain":[0,1],"nice":false},"axis":{"title":["spindle pole overall","velocity (µm/s)"],"titleFontSize":11.5,"titlePadding":7,"labels":false,"ticks":false,"values":[0.25,0.5,0.75],"grid":true,"gridColor":"#222","domainColor":"#999"}}}},
{"data":{"name":"A4"},"mark":{"type":"line","color":"#1f2674","strokeWidth":1.5},"encoding":{"x":{"field":"t","type":"quantitative","scale":{"domain":[-200,300],"nice":false},"axis":null},"y":{"field":"p","type":"quantitative","scale":{"domain":[0,1],"nice":false},"axis":null}}},
{"data":{"name":"A4"},"mark":{"type":"line","color":"#e8692b","strokeWidth":1.5},"encoding":{"x":{"field":"t","type":"quantitative","scale":{"domain":[-200,300],"nice":false},"axis":null},"y":{"field":"d","type":"quantitative","scale":{"domain":[0,30],"nice":false},"axis":{"orient":"right","values":[0,10,20,30],"title":null,"tickSize":4,"labelPadding":2}}}}],
"resolve":{"scale":{"x":"independent","y":"independent"}}},
{"width":172,"height":90,
"layer":[
{"data":{"values":[{}]},"mark":{"type":"rule","color":"#444"},"encoding":{"x":{"datum":0,"type":"quantitative","scale":{"domain":[-200,300],"nice":false},"axis":null}}},
{"data":{"name":"tV"},"mark":{"type":"text","align":"right","baseline":"middle","dx":-2,"fontSize":9,"fontStyle":"italic","fontWeight":"bold","color":"#111"},"encoding":{"x":{"datum":0,"type":"quantitative","scale":{"domain":[-200,300],"nice":false},"axis":null},"y":{"field":"v","type":"quantitative","scale":{"domain":[0,1],"nice":false},"axis":null},"text":{"field":"l"}}},
{"data":{"name":"B4"},"mark":{"type":"line","color":"#9dc3e6","strokeWidth":1.5},"encoding":{"x":{"field":"t","type":"quantitative","scale":{"domain":[-200,300],"nice":false},"axis":{"values":[-200,-100,0,100,200,300],"title":"Time to NEB (s)","titleFontSize":14,"titleColor":"#222","titlePadding":5,"tickSize":3,"labelPadding":2,"labelFlush":false}},"y":{"field":"a","type":"quantitative","scale":{"domain":[0,1],"nice":false},"axis":{"title":null,"labels":false,"ticks":false,"values":[0.25,0.5,0.75],"grid":true,"gridColor":"#222","domainColor":"#999"}}}},
{"data":{"name":"B4"},"mark":{"type":"line","color":"#1f2674","strokeWidth":1.5},"encoding":{"x":{"field":"t","type":"quantitative","scale":{"domain":[-200,300],"nice":false},"axis":null},"y":{"field":"p","type":"quantitative","scale":{"domain":[0,1],"nice":false},"axis":null}}},
{"data":{"name":"B4"},"mark":{"type":"line","color":"#e8692b","strokeWidth":1.5},"encoding":{"x":{"field":"t","type":"quantitative","scale":{"domain":[-200,300],"nice":false},"axis":null},"y":{"field":"d","type":"quantitative","scale":{"domain":[0,30],"nice":false},"axis":{"orient":"right","values":[0,10,20,30],"title":null,"tickSize":4,"labelPadding":2}}}}],
"resolve":{"scale":{"x":"independent","y":"independent"}}},
{"width":172,"height":90,
"layer":[
{"data":{"values":[{}]},"mark":{"type":"rule","color":"#444"},"encoding":{"x":{"datum":0,"type":"quantitative","scale":{"domain":[-200,300],"nice":false},"axis":null}}},
{"data":{"name":"tV"},"mark":{"type":"text","align":"right","baseline":"middle","dx":-2,"fontSize":9,"fontStyle":"italic","fontWeight":"bold","color":"#111"},"encoding":{"x":{"datum":0,"type":"quantitative","scale":{"domain":[-200,300],"nice":false},"axis":null},"y":{"field":"v","type":"quantitative","scale":{"domain":[0,1],"nice":false},"axis":null},"text":{"field":"l"}}},
{"data":{"name":"C4"},"mark":{"type":"line","color":"#9dc3e6","strokeWidth":1.5},"encoding":{"x":{"field":"t","type":"quantitative","scale":{"domain":[-200,300],"nice":false},"axis":{"values":[-200,-100,0,100,200,300],"title":"Time to NEB (s)","titleFontSize":14,"titleColor":"#222","titlePadding":5,"tickSize":3,"labelPadding":2,"labelFlush":false}},"y":{"field":"a","type":"quantitative","scale":{"domain":[0,1],"nice":false},"axis":{"title":null,"labels":false,"ticks":false,"values":[0.25,0.5,0.75],"grid":true,"gridColor":"#222","domainColor":"#999"}}}},
{"data":{"name":"C4"},"mark":{"type":"line","color":"#1f2674","strokeWidth":1.5},"encoding":{"x":{"field":"t","type":"quantitative","scale":{"domain":[-200,300],"nice":false},"axis":null},"y":{"field":"p","type":"quantitative","scale":{"domain":[0,1],"nice":false},"axis":null}}},
{"data":{"name":"C4"},"mark":{"type":"line","color":"#e8692b","strokeWidth":1.5},"encoding":{"x":{"field":"t","type":"quantitative","scale":{"domain":[-200,300],"nice":false},"axis":null},"y":{"field":"d","type":"quantitative","scale":{"domain":[0,30],"nice":false},"axis":{"orient":"right","values":[0,10,20,30],"title":"pole-pole distance (µm)","titleFontSize":14,"titleColor":"#222","titleAngle":270,"titleAnchor":"end","titleAlign":"center","titleBaseline":"top","titleY":-12,"titlePadding":3,"tickSize":4,"labelPadding":2}}}}],
"resolve":{"scale":{"x":"independent","y":"independent"}}}
]}]},
{"spacing":0,"hconcat":[
{"width":1,"height":1,"view":{"stroke":null},"data":{"values":[{}]},"mark":{"type":"text","text":""},"encoding":{}},
{"data":{"name":"bars"},
"title":{"text":"D","anchor":"start","frame":"bounds","dx":-8,"offset":8,"fontSize":15,"fontWeight":"bold"},
"facet":{"column":{"field":"g","type":"nominal","sort":["wild-type","let-99","par-1"],"title":null,"header":{"labelOrient":"bottom","labelPadding":41}}},
"spacing":0,"bounds":"flush",
"resolve":{"scale":{"x":"independent","xOffset":"independent"}},
"spec":{"width":99.5,"height":154,"view":{"stroke":null},
"layer":[
{"mark":{"type":"bar"},"encoding":{
"x":{"field":"c","type":"nominal","scale":{"type":"band","paddingInner":0.4,"paddingOuter":0.2},"axis":{"title":null,"labelExpr":"datum.value ? split(datum.value,' ')[0] : ''","labelAngle":0,"labelFontSize":13,"labelPadding":3,"domainColor":"#999","tickColor":"#999","tickBand":"extent","tickSize":4}},
"xOffset":{"field":"s","type":"nominal","scale":{"type":"band","paddingInner":0,"paddingOuter":0}},
"y":{"field":"m","type":"quantitative","scale":{"domain":[0,0.75],"nice":false},"axis":{"title":["mean peak velocity","along AP axis (µm/s)"],"titleFontSize":13.5,"titleColor":"#333","titlePadding":12,"values":[0,0.25,0.5,0.75],"format":".2f","labelFontSize":11.5,"labelPadding":5,"ticks":false,"grid":true,"gridColor":"#c0c0c0","domainColor":"#c0c0c0"}},
"color":{"field":"s","type":"nominal","scale":{"domain":["anterior spindle pole","posterior spindle pole","pole-pole distance"],"range":["#c9dcf0","#2b3a94","#f7941d"]},"legend":{"title":null,"orient":"right","offset":35,"padding":20,"symbolType":"M-1.6,-0.45H1.6V0.45H-1.6Z","symbolSize":225,"symbolStrokeWidth":0,"labelFontSize":12,"labelFontStyle":"italic","labelColor":"#444","labelOffset":7,"rowPadding":5}}}},
{"mark":{"type":"rule","color":"#222"},"encoding":{"x":{"field":"c","type":"nominal"},"xOffset":{"field":"s","type":"nominal"},"y":{"field":"lo","type":"quantitative"},"y2":{"field":"hi"}}},
{"mark":{"type":"tick","color":"#222","size":5,"thickness":1,"orient":"horizontal"},"encoding":{"x":{"field":"c","type":"nominal"},"xOffset":{"field":"s","type":"nominal"},"y":{"field":"lo","type":"quantitative"}}},
{"mark":{"type":"tick","color":"#222","size":5,"thickness":1,"orient":"horizontal"},"encoding":{"x":{"field":"c","type":"nominal"},"xOffset":{"field":"s","type":"nominal"},"y":{"field":"hi","type":"quantitative"}}},
{"mark":{"type":"line","color":"#b8b8b8","strokeWidth":1},"encoding":{"x":{"field":"c","type":"nominal"},"xOffset":{"field":"s","type":"nominal"},"y":{"field":"b","type":"quantitative"},"detail":{"field":"c"},"order":{"field":"o"}}},
{"transform":[{"filter":"isValid(datum.n)"}],"mark":{"type":"text","baseline":"top","dy":23,"fontSize":12,"fontStyle":"italic","color":"#333"},"encoding":{"x":{"field":"c","type":"nominal"},"y":{"datum":0,"type":"quantitative"},"text":{"field":"n"}}}
]}}]}
]
}
